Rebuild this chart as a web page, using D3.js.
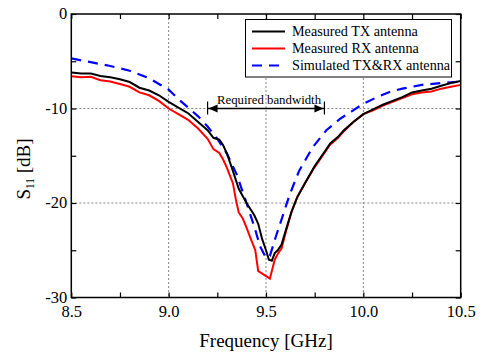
<!DOCTYPE html>
<html>
<head>
<meta charset="utf-8">
<script src="https://cdn.jsdelivr.net/npm/d3@7"></script>
<style>
html,body{margin:0;padding:0;background:#fff;}
svg{display:block;}
text{font-family:"Liberation Serif","Times New Roman",serif;fill:#000;}
</style>
</head>
<body>
<svg id="chart" width="484" height="352"></svg>
<script>
// ---- data ----
const txFreq = [8.50,8.55,8.60,8.65,8.70,8.75,8.80,8.85,8.90,8.95,9.00,9.05,9.10,9.15,9.20,9.23,9.26,9.28,9.30,9.33,9.36,9.40,9.44,9.46,9.48,9.50,9.515,9.53,9.545,9.56,9.58,9.60,9.63,9.66,9.70,9.75,9.80,9.83,9.87,9.90,9.95,10.00,10.05,10.10,10.15,10.20,10.25,10.30,10.35,10.40,10.45,10.50];
const txS11 = [-6.2,-6.3,-6.3,-6.55,-6.7,-6.9,-7.2,-7.8,-8.1,-8.6,-9.3,-9.9,-10.5,-11.4,-12.3,-13.1,-13.3,-13.9,-14.8,-16.6,-18.5,-20.0,-21.3,-22.2,-23.8,-25.0,-26.0,-26.1,-25.3,-25.0,-24.4,-23.0,-21.0,-19.4,-17.9,-16.1,-14.6,-13.7,-13.0,-12.3,-11.4,-10.6,-10.1,-9.6,-9.2,-8.8,-8.3,-8.1,-7.9,-7.6,-7.3,-7.1];
const rxFreq = [8.50,8.55,8.60,8.65,8.70,8.75,8.80,8.85,8.90,8.95,9.00,9.05,9.10,9.15,9.20,9.23,9.26,9.28,9.30,9.33,9.345,9.36,9.38,9.40,9.42,9.445,9.46,9.475,9.49,9.505,9.52,9.53,9.545,9.56,9.58,9.60,9.63,9.66,9.70,9.75,9.80,9.83,9.87,9.90,9.95,10.00,10.05,10.10,10.15,10.20,10.25,10.30,10.35,10.40,10.45,10.50];
const rxS11 = [-6.6,-6.7,-6.65,-7.0,-7.15,-7.4,-7.7,-8.3,-8.6,-9.2,-10.0,-10.6,-11.2,-12.1,-13.2,-14.3,-14.7,-15.4,-16.3,-17.9,-19.6,-21.0,-21.6,-22.6,-23.7,-25.0,-27.2,-27.4,-27.6,-27.8,-28.0,-27.2,-26.0,-25.4,-24.8,-23.2,-21.0,-19.4,-17.9,-16.2,-14.7,-13.8,-13.1,-12.4,-11.4,-10.6,-10.2,-9.7,-9.3,-8.9,-8.5,-8.3,-8.2,-7.9,-7.7,-7.5];
const simFreq = [8.50,8.60,8.70,8.80,8.85,8.90,8.95,9.00,9.05,9.10,9.15,9.20,9.25,9.30,9.35,9.40,9.44,9.47,9.50,9.52,9.55,9.59,9.62,9.67,9.74,9.81,9.88,9.94,10.00,10.07,10.14,10.20,10.30,10.40,10.50];
const simS11 = [-4.7,-5.1,-5.5,-6.0,-6.4,-6.8,-7.4,-8.0,-9.0,-9.9,-10.8,-11.9,-13.2,-14.8,-17.0,-20.0,-22.5,-24.6,-25.8,-25.6,-23.6,-21.1,-19.2,-16.6,-14.1,-12.3,-11.1,-10.3,-9.5,-8.8,-8.2,-7.9,-7.5,-7.3,-7.15];
const xTickLabels = ["8.5","9.0","9.5","10.0","10.5"];
const yTickLabels = ["0","-10","-20","-30"];
const seriesNames = ["Measured TX antenna","Measured RX antenna","Simulated TX&RX antenna"];
const bandwidth = [9.2, 9.8];
const bandwidthLevel = -10;
const bandwidthLabel = "Required bandwidth";

// ---- layout ----
const svg = d3.select("#chart");
const L = 71.3, R = 460.7, T = 14, B = 297.5;
const x = d3.scaleLinear().domain([8.5, 10.5]).range([L, R]);
const y = d3.scaleLinear().domain([-30, 0]).range([B, T]);

// grid
const g = svg.append("g");
[9.0, 9.5, 10.0].forEach(v => {
  g.append("line").attr("x1", x(v)).attr("x2", x(v)).attr("y1", T).attr("y2", B)
    .attr("stroke", "#888").attr("stroke-width", 1).attr("stroke-dasharray", "2,2");
});
[-10, -20].forEach(v => {
  g.append("line").attr("x1", L).attr("x2", R).attr("y1", y(v)).attr("y2", y(v))
    .attr("stroke", "#888").attr("stroke-width", 1).attr("stroke-dasharray", "2,2");
});

// axes with inward ticks
const xTicks = [8.5, 8.75, 9.0, 9.25, 9.5, 9.75, 10.0, 10.25, 10.5];
const yTicks = [0, -5, -10, -15, -20, -25, -30];
const xb = svg.append("g").attr("transform", `translate(0,${B})`)
  .call(d3.axisBottom(x).tickValues(xTicks).tickSizeInner(-5).tickSizeOuter(0)
    .tickFormat(d => { const i = [8.5,9.0,9.5,10.0,10.5].indexOf(d); return i >= 0 ? xTickLabels[i] : ""; }));
const xt = svg.append("g").attr("transform", `translate(0,${T})`)
  .call(d3.axisTop(x).tickValues(xTicks).tickSizeInner(-5).tickSizeOuter(0).tickFormat(""));
const yl = svg.append("g").attr("transform", `translate(${L},0)`)
  .call(d3.axisLeft(y).tickValues(yTicks).tickSizeInner(-5).tickSizeOuter(0)
    .tickFormat(d => { const i = [0,-10,-20,-30].indexOf(d); return i >= 0 ? yTickLabels[i] : ""; }));
const yr = svg.append("g").attr("transform", `translate(${R},0)`)
  .call(d3.axisRight(y).tickValues(yTicks).tickSizeInner(-5).tickSizeOuter(0).tickFormat(""));
[xb, xt, yl, yr].forEach(a => {
  a.select(".domain").remove();
  a.selectAll(".tick line").attr("stroke", "#000").attr("stroke-width", 1.2);
  a.selectAll("text").attr("font-family", "Liberation Serif").attr("font-size", 16.5).attr("fill", "#000");
});
xb.selectAll("text").attr("dy", "0.95em").attr("y", 4);
yl.selectAll("text").attr("x", -4).attr("dy", "0.3em");

// lines
const line = d3.line().x(d => x(d[0])).y(d => y(d[1])).curve(d3.curveLinear);
const clip = svg.append("clipPath").attr("id", "clip").append("rect")
  .attr("x", L).attr("y", T).attr("width", R - L).attr("height", B - T);
const plot = svg.append("g").attr("clip-path", "url(#clip)");
plot.append("path").datum(d3.zip(simFreq, simS11)).attr("d", line)
  .attr("fill", "none").attr("stroke", "#0000ff").attr("stroke-width", 2.2).attr("stroke-dasharray", "10,7");
plot.append("path").datum(d3.zip(rxFreq, rxS11)).attr("d", line)
  .attr("fill", "none").attr("stroke", "#ff0000").attr("stroke-width", 2);
plot.append("path").datum(d3.zip(txFreq, txS11)).attr("d", line)
  .attr("fill", "none").attr("stroke", "#000").attr("stroke-width", 2);

// frame
svg.append("rect").attr("x", L).attr("y", T).attr("width", R - L).attr("height", B - T)
  .attr("fill", "none").attr("stroke", "#000").attr("stroke-width", 1.5);

// bandwidth annotation
const ay = y(bandwidthLevel);
const bx1 = x(bandwidth[0]), bx2 = x(bandwidth[1]);
svg.append("line").attr("x1", bx1).attr("x2", bx2).attr("y1", ay).attr("y2", ay)
  .attr("stroke", "#000").attr("stroke-width", 1.3);
[bx1, bx2].forEach(bx => {
  svg.append("line").attr("x1", bx).attr("x2", bx).attr("y1", ay - 7).attr("y2", ay + 6)
    .attr("stroke", "#000").attr("stroke-width", 1.2);
});
svg.append("path").attr("d", `M${bx1 + 1},${ay} L${bx1 + 10},${ay - 4} L${bx1 + 10},${ay + 4} Z`).attr("fill", "#000");
svg.append("path").attr("d", `M${bx2 - 1},${ay} L${bx2 - 10},${ay - 4} L${bx2 - 10},${ay + 4} Z`).attr("fill", "#000");
svg.append("text").attr("x", (bx1 + bx2) / 2 + 3).attr("y", ay - 4.5).attr("text-anchor", "middle")
  .attr("font-size", 12.8).text(bandwidthLabel);

// legend
const leg = svg.append("g");
leg.append("rect").attr("x", 245.5).attr("y", 19.5).attr("width", 206).attr("height", 57.5)
  .attr("fill", "#fff").attr("stroke", "#000").attr("stroke-width", 1);
const legColors = ["#000", "#ff0000", "#0000ff"];
const legDash = [null, null, "10,7"];
seriesNames.forEach((n, i) => {
  const ly = 31.5 + i * 17;
  leg.append("line").attr("x1", 252).attr("x2", 285).attr("y1", ly).attr("y2", ly)
    .attr("stroke", legColors[i]).attr("stroke-width", i === 2 ? 2.2 : 2)
    .attr("stroke-dasharray", legDash[i]);
  leg.append("text").attr("x", 292).attr("y", ly).attr("dy", "0.33em")
    .attr("font-size", 14.2).text(n);
});

// axis titles
svg.append("text").attr("x", 266).attr("y", 347).attr("text-anchor", "middle")
  .attr("font-size", 19).text("Frequency [GHz]");
const yt = svg.append("text").attr("transform", `translate(30,169) rotate(-90)`)
  .attr("text-anchor", "middle").attr("font-size", 19);
yt.append("tspan").text("S");
yt.append("tspan").attr("font-size", 11.5).attr("dy", 4).text("11");
yt.append("tspan").attr("dy", -4).text(" [dB]");
</script>
</body>
</html>
